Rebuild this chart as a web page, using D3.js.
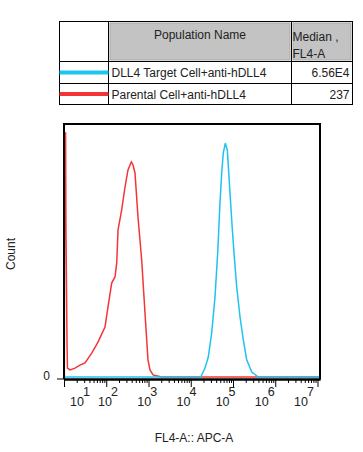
<!DOCTYPE html>
<html>
<head>
<meta charset="utf-8">
<script src="https://cdn.jsdelivr.net/npm/d3@7"></script>
<style>
  body { margin: 0; background: #fff; }
  svg text { font-family: "Liberation Sans", Arial, sans-serif; fill: #222; }
</style>
</head>
<body>
<svg id="chart" width="363" height="452"></svg>
<script>
// Table data
let popNames = ["DLL4 Target Cell+anti-hDLL4", "Parental Cell+anti-hDLL4"];
let popMedians = ["6.56E4", "237"];
let popColors = ["#1ec3f0", "#f43535"];

// Histogram points (FL4-A value, count as % of max)
let cyanFL4 = [10, 17200, 21700, 26000, 31300, 37500, 43400, 49200, 54000, 58900, 65800, 73300,
  80400, 93100, 105600, 122400, 146600, 175400, 211000, 277000, 397000, 1.15e7];
let cyanCount = [0, 0, 3.8, 8.5, 18.8, 34.2, 52.9, 74.3, 87.1, 95.6, 99.8, 96.9,
  85.4, 67.0, 52.9, 38.4, 25.6, 15.8, 7.3, 2.1, 0, 0];

let redFL4 = [10.2, 10.3, 10.9, 11.1, 11.8, 12.1, 13.9, 18.2, 23.9, 31.4, 45.3, 63.8, 93.4, 110,
  134.5, 161, 177, 190, 232, 278, 327, 392, 430, 479, 564, 690, 826, 972, 1085, 1279, 2053, 1.15e7];
let redCount = [0, 104.2, 104.2, 64.9, 13.7, 3.8, 3.0, 3.8, 5.1, 6.0, 10.2, 14.9, 21.3, 29.9,
  40.1, 42.7, 48.7, 62.8, 71.3, 81.1, 88.4, 91.8, 90.5, 87.1, 68.3, 49.9, 27.3, 7.3, 3.0, 0.9, 0, 0];

// Axis ticks
let decadeExps = [1, 2, 3, 4, 5, 6, 7];
let minorMults = [2, 3, 4, 5, 6, 7, 8, 9];

let svg = d3.select("#chart");

// ---- table ----
let colX = [59.5, 108.5, 291.5, 352.5];
let rowY = [21.5, 61.5, 83.5, 104.5];
let table = svg.append("g").attr("class", "table");

// gray header cells
[1, 2].forEach(function(c){
  table.append("rect")
    .attr("x", colX[c] + 1.5).attr("y", rowY[0] + 1.5)
    .attr("width", colX[c+1] - colX[c] - 3).attr("height", rowY[1] - rowY[0] - 3)
    .attr("fill", "#c3c3c3").attr("stroke", "#a8a8a8").attr("stroke-width", 1);
});
table.append("rect")
  .attr("x", colX[0]).attr("y", rowY[0])
  .attr("width", colX[3] - colX[0]).attr("height", rowY[3] - rowY[0])
  .attr("fill", "none").attr("stroke", "#000");
colX.slice(1, 3).forEach(function(cx){
  table.append("line").attr("x1", cx).attr("x2", cx).attr("y1", rowY[0]).attr("y2", rowY[3]).attr("stroke", "#000");
});
rowY.slice(1, 3).forEach(function(ry){
  table.append("line").attr("x1", colX[0]).attr("x2", colX[3]).attr("y1", ry).attr("y2", ry).attr("stroke", "#000");
});
table.append("text").attr("x", (colX[1] + colX[2]) / 2).attr("y", 39)
  .attr("text-anchor", "middle").style("font-size", "12px").text("Population Name");
table.append("text").attr("x", colX[2] + 1).attr("y", 41).style("font-size", "12px").text("Median ,");
table.append("text").attr("x", colX[2] + 1).attr("y", 57.5).style("font-size", "12px").text("FL4-A");

popNames.forEach(function(name, i){
  let cy = (rowY[i+1] + rowY[i+2]) / 2;
  table.append("line")
    .attr("x1", colX[0]).attr("x2", colX[1]).attr("y1", cy).attr("y2", cy)
    .attr("stroke", popColors[i]).attr("stroke-width", 4);
  table.append("text").attr("x", colX[1] + 3).attr("y", cy + 4.5).style("font-size", "12px").text(name);
  table.append("text").attr("x", colX[3] - 3).attr("y", cy + 4.5)
    .attr("text-anchor", "end").style("font-size", "12px").text(popMedians[i]);
});

// ---- histogram ----
let plotLeft = 64, plotRight = 320, plotTop = 124, plotBottom = 379;
let x = d3.scaleLog().domain([10, Math.pow(10, 7.059)]).range([plotLeft, plotRight]);
let y = d3.scaleLinear().domain([0, 108]).range([plotBottom - 2, plotTop]);

let plot = svg.append("g");
svg.append("clipPath").attr("id", "plotclip")
  .append("rect").attr("x", plotLeft).attr("y", plotTop)
  .attr("width", plotRight - plotLeft).attr("height", plotBottom - plotTop);

let line = d3.line()
  .x(function(d){ return x(d[0]); })
  .y(function(d){ return y(d[1]); });

let series = [
  { fl4: redFL4, count: redCount, color: popColors[1] },
  { fl4: cyanFL4, count: cyanCount, color: popColors[0] }
];
series.forEach(function(s){
  plot.append("path")
    .datum(s.fl4.map(function(v, i){ return [v, s.count[i]]; }))
    .attr("d", line)
    .attr("clip-path", "url(#plotclip)")
    .attr("fill", "none")
    .attr("stroke", s.color)
    .attr("stroke-width", 1.5);
});

// frame
plot.append("path")
  .attr("d", "M" + plotLeft + "," + plotBottom + "V" + plotTop + "H" + plotRight + "V" + plotBottom)
  .attr("fill", "none").attr("stroke", "#000").attr("stroke-width", 2);

// x axis: major and minor ticks
let majors = decadeExps.map(function(e){ return Math.pow(10, e); });
let minors = [];
decadeExps.forEach(function(e){
  minorMults.forEach(function(m){
    let v = m * Math.pow(10, e);
    if (v <= x.domain()[1]) minors.push(v);
  });
});
let axMajor = svg.append("g").attr("transform", "translate(0," + plotBottom + ")")
  .call(d3.axisBottom(x).tickValues(majors).tickSize(8).tickSizeOuter(0).tickFormat(""));
let axMinor = svg.append("g").attr("transform", "translate(0," + plotBottom + ")")
  .call(d3.axisBottom(x).tickValues(minors).tickSize(4).tickSizeOuter(0).tickFormat(""));
[axMajor, axMinor].forEach(function(a){
  a.select(".domain").attr("stroke", "#000").attr("stroke-width", 2);
  a.selectAll(".tick line").attr("stroke", "#000").attr("stroke-width", 1);
});

// decade labels (FlowJo draws them slightly off the ticks)
let labelX = d3.scaleLinear().domain([2, 7]).range([108, 304]);
decadeExps.forEach(function(e){
  let cx = Math.max(labelX(e), plotLeft + 16);
  let t = svg.append("text").attr("x", cx).attr("y", 406)
    .attr("text-anchor", "middle").style("font-size", "12.5px");
  t.append("tspan").text("10");
  t.append("tspan").attr("dx", -1).attr("dy", -10.5).text(e);
});

// y axis
let yAxis = svg.append("g").attr("transform", "translate(" + plotLeft + ",0)")
  .call(d3.axisLeft(y).tickValues([0]).tickSize(7).tickSizeOuter(0).tickPadding(7));
yAxis.select(".domain").remove();
yAxis.selectAll(".tick").attr("transform", "translate(0," + plotBottom + ")");
yAxis.selectAll(".tick line").attr("stroke", "#000");
yAxis.selectAll(".tick text").attr("dy", "0.12em").style("font-size", "12px")
  .style("font-family", "'Liberation Sans', Arial, sans-serif").attr("fill", "#222");

// axis titles
svg.append("text").attr("transform", "translate(15,254) rotate(-90)")
  .attr("text-anchor", "middle").style("font-size", "12px").text("Count");
svg.append("text").attr("x", 194).attr("y", 442)
  .attr("text-anchor", "middle").style("font-size", "12px").text("FL4-A:: APC-A");
</script>
</body>
</html>
